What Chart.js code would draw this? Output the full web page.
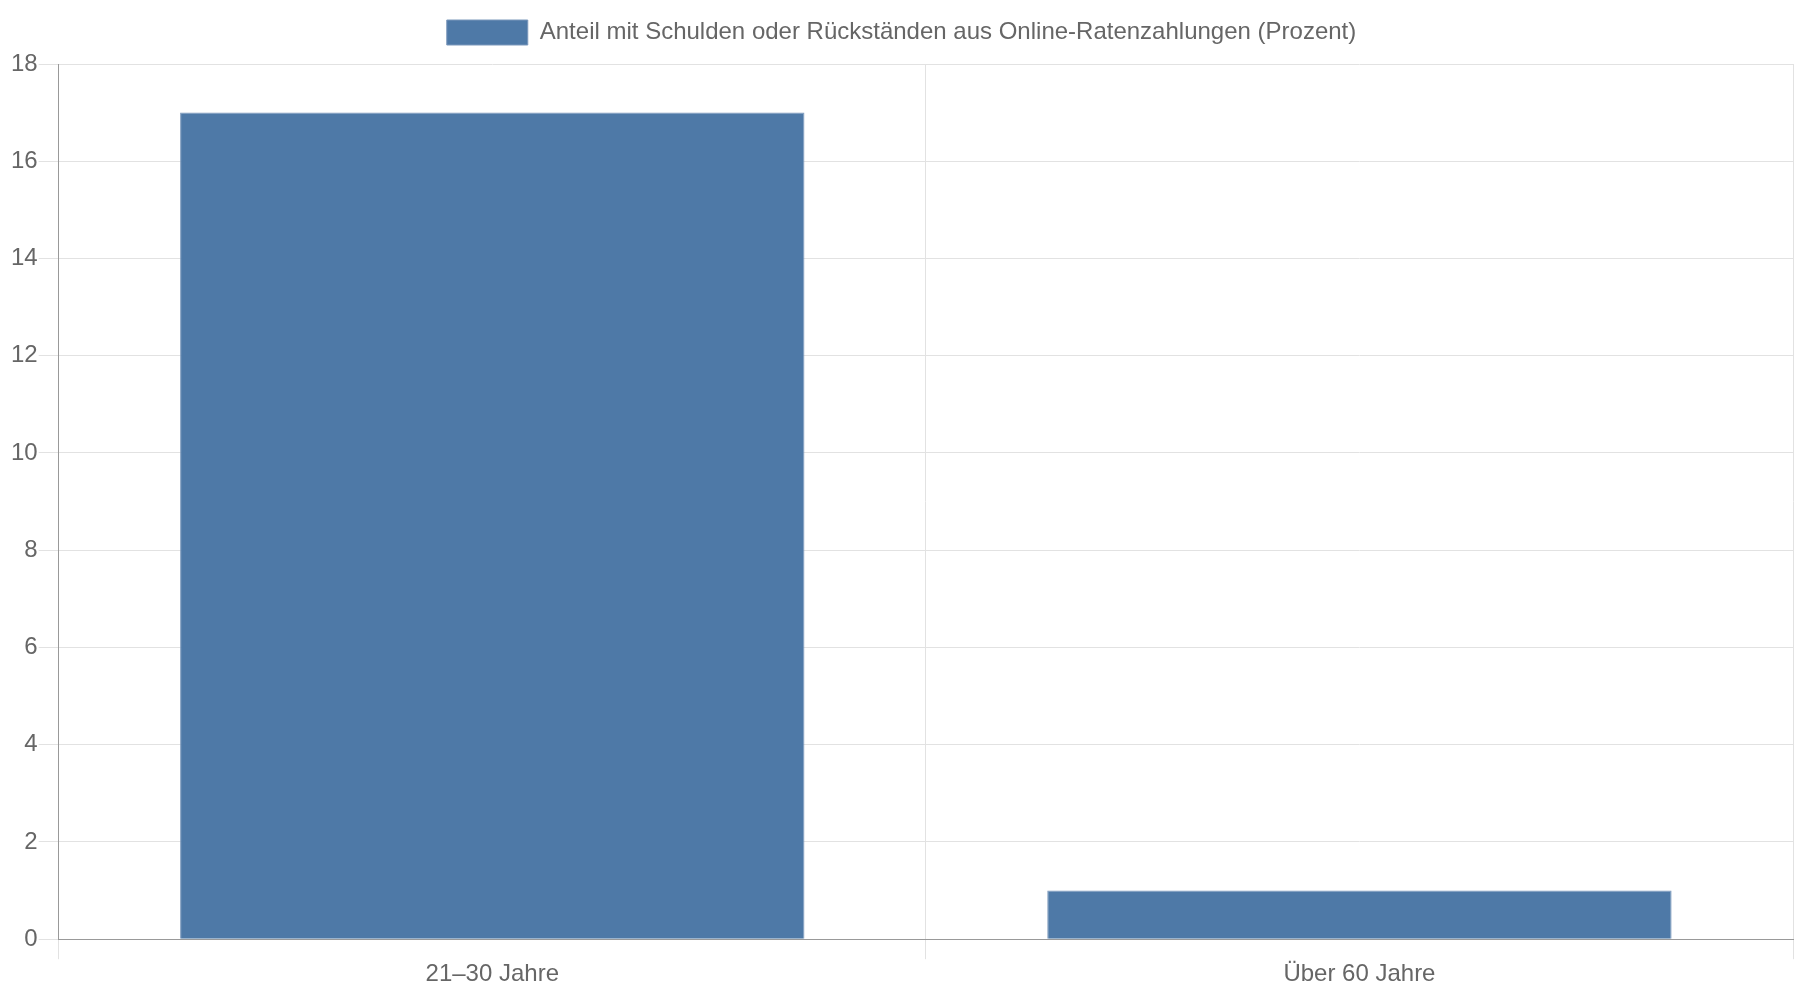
<!DOCTYPE html>
<html>
<head>
<meta charset="utf-8">
<script src="https://cdn.jsdelivr.net/npm/chart.js@4/dist/chart.umd.min.js"></script>
<style>
  html, body { margin: 0; padding: 0; background: #fff; }
  #wrap { width: 1800px; height: 1000px; }
</style>
</head>
<body>
<div id="wrap"><canvas id="myChart"></canvas></div>
<script>
// Daten
const kategorien = ["21–30 Jahre", "Über 60 Jahre"]
const anteilSchulden = [17, 1]
const serienName = "Anteil mit Schulden oder Rückständen aus Online-Ratenzahlungen (Prozent)"
const yTicks = [0, 2, 4, 6, 8, 10, 12, 14, 16, 18]

Chart.defaults.font.family = "'Liberation Sans', Arial, sans-serif"
Chart.defaults.font.size = 24
Chart.defaults.color = "#666"

// etwas mehr Platz unter der Legende
const legendAbstand = {
  id: "legendAbstand",
  beforeInit(chart) {
    const origFit = chart.legend.fit
    chart.legend.fit = function () {
      origFit.bind(chart.legend)()
      this.height += 9
    }
  }
}

const chart = new Chart("myChart", {
  type: "bar",
  data: {
    labels: kategorien,
    datasets: [{
      label: serienName,
      data: anteilSchulden,
      backgroundColor: "#4e79a7",
      borderColor: "#7b98bb",
      borderWidth: 1
    }]
  },
  options: {
    responsive: true,
    maintainAspectRatio: false,
    animation: false,
    devicePixelRatio: 1,
    layout: {
      padding: { left: 10, right: 7, top: 10, bottom: 10 }
    },
    plugins: {
      legend: {
        labels: {
          boxWidth: 81,
          boxHeight: 25,
          padding: 10
        }
      },
      tooltip: { enabled: false }
    },
    scales: {
      x: {
        grid: { tickLength: 20, color: "#e2e2e2" },
        border: { color: "#999" },
        ticks: { padding: 1 }
      },
      y: {
        min: yTicks[0],
        max: yTicks[yTicks.length - 1],
        ticks: { stepSize: yTicks[1] - yTicks[0], padding: 1 },
        grid: { tickLength: 20, color: "#e2e2e2" },
        border: { color: "#999" }
      }
    }
  },
  plugins: [legendAbstand]
})
</script>
</body>
</html>
